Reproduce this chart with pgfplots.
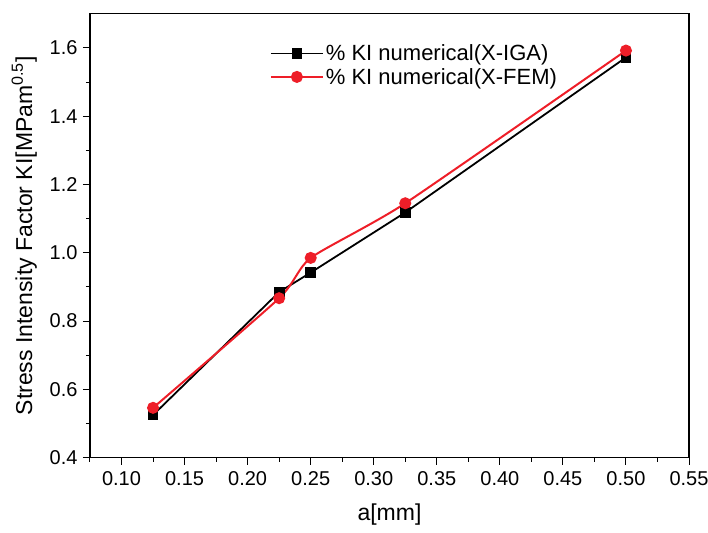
\documentclass[border=0pt]{standalone}
\usepackage{pgfplots}
\pgfplotsset{compat=1.18}
\usepackage{fontspec}
\setmainfont{Liberation Sans}
\definecolor{myred}{RGB}{238,30,40}
\begin{document}
\begin{tikzpicture}
\useasboundingbox (-90pt,-74.3pt) rectangle (618pt,457.7pt);
\begin{axis}[
  scale only axis, width=599pt, height=444pt,
  xmin=0.075, xmax=0.55, ymin=0.4, ymax=1.7,
  xtick={0.10,0.15,0.20,0.25,0.30,0.35,0.40,0.45,0.50,0.55},
  minor xtick={0.075,0.125,0.175,0.225,0.275,0.325,0.375,0.425,0.475,0.525},
  ytick={0.4,0.6,0.8,1.0,1.2,1.4,1.6},
  minor ytick={0.5,0.7,0.9,1.1,1.3,1.5},
  tick align=outside, xtick pos=left, ytick pos=left,
  major tick length=7pt, minor tick length=4pt,
  every tick/.style={black, line width=1pt},
  axis line style={line width=1.3pt},
  /pgf/number format/assume math mode=true,
  xticklabel style={font=\fontsize{20}{22}\selectfont, yshift=-3pt, /pgf/number format/fixed, /pgf/number format/fixed zerofill, /pgf/number format/precision=2},
  yticklabel style={font=\fontsize{20}{22}\selectfont, xshift=-2pt, /pgf/number format/fixed, /pgf/number format/fixed zerofill, /pgf/number format/precision=1},
  xlabel={a[mm]}, ylabel={Stress Intensity Factor KI[MPam\textsuperscript{0.5}]},
  xlabel style={font=\fontsize{23}{25}\selectfont, yshift=-12pt},
  ylabel style={font=\fontsize{23}{25}\selectfont, yshift=6pt},
  legend cell align=left,
  legend style={at={(rel axis cs:0.30,0.935)}, anchor=north west, draw=none, fill=none, font=\fontsize{22}{24}\selectfont, row sep=2pt, inner sep=0pt},
  legend image code/.code={\draw[mark repeat=2,mark phase=2,#1] plot coordinates {(0pt,0pt) (26pt,0pt) (52pt,0pt)};},
]
\addplot[black, line width=1.8pt, mark=square*, mark size=4.5pt, mark options={solid}] coordinates {
(0.125,0.525) (0.225,0.885) (0.25,0.942) (0.325,1.118) (0.5,1.572)};
\addlegendentry{\% KI numerical(X-IGA)}
\addplot[myred, line width=2pt, smooth, tension=0.35, mark=*, mark size=5pt, mark options={solid}] coordinates {
(0.125,0.546) (0.225,0.867) (0.25,0.985) (0.325,1.145) (0.5,1.592)};
\addlegendentry{\% KI numerical(X-FEM)}
\end{axis}
\end{tikzpicture}
\end{document}
